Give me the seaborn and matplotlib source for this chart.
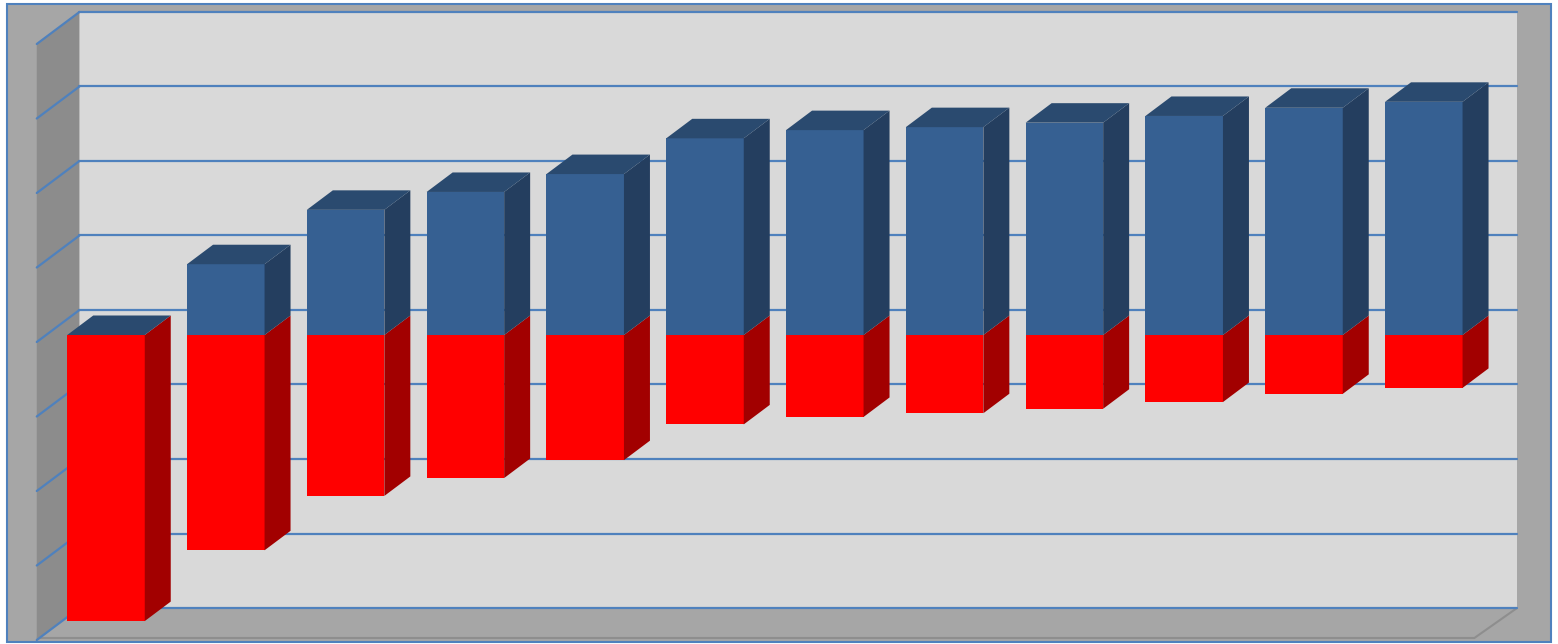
import matplotlib
matplotlib.use("Agg")
import matplotlib.pyplot as plt
import numpy as np
import pandas as pd
import seaborn as sns
from matplotlib.patches import Polygon, Rectangle

# ---------------- data ----------------
periods = [str(i) for i in range(1, 13)]
red_values = [-384, -289, -216, -192, -168, -120, -110, -105, -99, -90, -79, -71]
blue_values = [0, 95, 168, 192, 216, 264, 275, 279, 285, 294, 305, 313]
grid_values = [-400, -300, -200, -100, 0, 100, 200, 300, 400]

# ---------------- style ----------------
FRONT_RED = "#FF0000"
SIDE_RED = "#A20000"
FRONT_BLUE = "#366092"
SIDE_BLUE = "#243E5F"
TOP_BLUE = "#2A4A6F"
BACK_WALL = "#D9D9D9"
SIDE_WALL = "#8C8C8C"
BG = "#A6A6A6"
GRID = "#4F81BD"
BAR_W = 0.647

W, H = 1558, 644
PX_X = 119.8   # px per category
PX_Y = 0.745   # px per value unit
X0_PX, Y0_PX = 106, 335

sns.set_theme(style="white")
fig = plt.figure(figsize=(W / 100, H / 100), dpi=100)
fig.patch.set_facecolor("white")
fig.add_artist(Rectangle((7 / W, 2 / H), 1544 / W, 638 / H, transform=fig.transFigure,
                         facecolor=BG, edgecolor=GRID, lw=1.5, zorder=0))

ax = fig.add_axes([0, 0, 1, 1])
ax.set_facecolor("none")

df = pd.DataFrame({"period": periods, "red": red_values, "blue": blue_values})
sns.barplot(data=df, x="period", y="red", color=FRONT_RED, saturation=1, width=BAR_W,
            linewidth=0, errorbar=None, ax=ax, zorder=5)
n_red = len(ax.patches)
sns.barplot(data=df, x="period", y="blue", color=FRONT_BLUE, saturation=1, width=BAR_W,
            linewidth=0, errorbar=None, ax=ax, zorder=6)
red_bars = list(ax.patches[:n_red])
blue_bars = list(ax.patches[n_red:])

ax.set_xlim((0 - X0_PX) / PX_X, (W - X0_PX) / PX_X)
ax.set_ylim(-(H - Y0_PX) / PX_Y, Y0_PX / PX_Y)
ax.set_axis_off()


def off(d):
    """oblique depth offset (d in px of vertical rise)"""
    return d * 1.333 / PX_X, d / PX_Y


bx, by = off(25)      # back wall
fx, fy = off(-7)      # front edge of floor / side wall
dx, dy = off(19.5)    # bar depth

n = len(periods)
xl, xr = -0.5, n - 0.5
vmin, vmax = grid_values[0], grid_values[-1]

# back wall
ax.add_patch(Rectangle((xl + bx, vmin + by), xr - xl, vmax - vmin, facecolor=BACK_WALL,
                       edgecolor="none", zorder=1))
# left side wall
ax.add_patch(Polygon([(xl + fx, vmin + fy), (xl + fx, vmax + fy), (xl + bx, vmax + by),
                      (xl + bx, vmin + by)], closed=True, facecolor=SIDE_WALL,
                     edgecolor="none", zorder=1))
# floor
ax.add_patch(Polygon([(xl + fx, vmin + fy), (xr + fx, vmin + fy), (xr + bx, vmin + by),
                      (xl + bx, vmin + by)], closed=True, facecolor=BG,
                     edgecolor="none", zorder=1))
ax.plot([xl + fx, xr + fx, xr + bx], [vmin + fy + 2 / PX_Y, vmin + fy + 2 / PX_Y, vmin + by],
        color="#8E8E8E", lw=1.5, zorder=1.5, solid_capstyle="butt")

# gridlines
for v in grid_values:
    ax.plot([xl + bx, xr + bx], [v + by, v + by], color=GRID, lw=1.6, zorder=2)
    ax.plot([xl + fx, xl + bx], [v + fy, v + by], color=GRID, lw=1.6, zorder=2)


def faces(p, side_color, top_color, z):
    x0 = p.get_x()
    x1 = x0 + p.get_width()
    y_a = p.get_y()
    y_b = y_a + p.get_height()
    lo, hi = min(y_a, y_b), max(y_a, y_b)
    ax.add_patch(Polygon([(x1, lo), (x1, hi), (x1 + dx, hi + dy), (x1 + dx, lo + dy)],
                         closed=True, facecolor=side_color, edgecolor="none", zorder=z))
    if top_color is not None:
        ax.add_patch(Polygon([(x0, hi), (x1, hi), (x1 + dx, hi + dy), (x0 + dx, hi + dy)],
                             closed=True, facecolor=top_color, edgecolor="none", zorder=z))


for p in red_bars:
    faces(p, SIDE_RED, None, 5)
for p in blue_bars:
    faces(p, SIDE_BLUE, TOP_BLUE, 6)

fig.savefig("out.png", dpi=100)
